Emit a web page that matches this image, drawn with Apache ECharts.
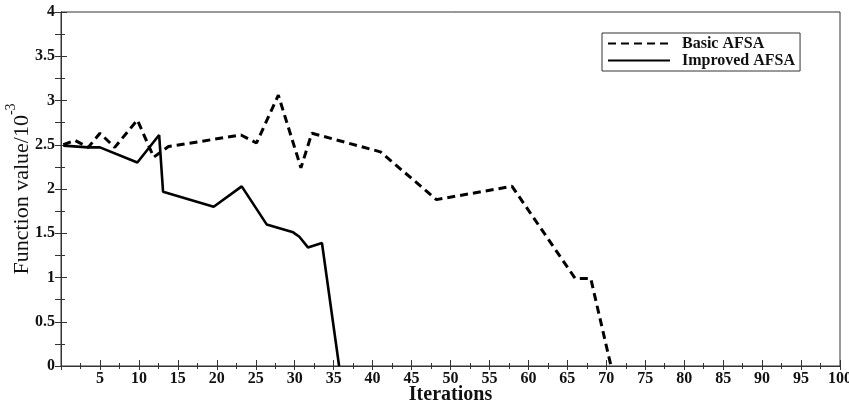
<!DOCTYPE html>
<html>
<head>
<meta charset="utf-8">
<script src="https://cdn.jsdelivr.net/npm/echarts@6/dist/echarts.min.js"></script>
<style>html,body{margin:0;padding:0;background:#fff}#c{width:849px;height:406px}</style>
</head>
<body>
<div id="c"></div>
<script>
const seriesNames = ["Basic AFSA", "Improved AFSA"];
const basicX = [0.3, 1.8, 3.5, 5.0, 6.9, 9.8, 11.9, 13.8, 23.1, 25.1, 27.9, 30.8, 32.2, 41.0, 48.2, 57.9, 66.0, 68.0, 70.6];
const basicY = [2.50, 2.55, 2.47, 2.63, 2.47, 2.78, 2.36, 2.48, 2.61, 2.52, 3.06, 2.24, 2.63, 2.42, 1.88, 2.03, 0.99, 0.99, 0.0];
const improvedX = [0.3, 3.5, 5.0, 9.8, 12.6, 13.1, 19.6, 23.2, 26.4, 29.8, 30.6, 31.7, 33.5, 35.7];
const improvedY = [2.49, 2.47, 2.47, 2.30, 2.61, 1.97, 1.80, 2.03, 1.60, 1.51, 1.46, 1.34, 1.39, 0.0];
const xMin = 0, xMax = 100, xStep = 5;
const yMin = 0, yMax = 4, yStep = 0.5;

const font = '"Liberation Serif", "DejaVu Serif", serif';
const pair = (xs, ys) => xs.map((x, i) => [x, ys[i]]);

const chart = echarts.init(document.getElementById('c'));
chart.setOption({
  animation: false,
  backgroundColor: '#fff',
  grid: { left: 61, right: 9, top: 12, bottom: 40, outerBoundsMode: 'none', containLabel: false,
    show: true, borderColor: '#333', borderWidth: 1, backgroundColor: 'transparent' },
  legend: {
    data: seriesNames,
    orient: 'vertical',
    left: 602, top: 33,
    borderColor: '#333', borderWidth: 1,
    padding: [2, 5, 2, 5],
    itemWidth: 62, itemHeight: 10, itemGap: 0,
    itemStyle: { opacity: 0 },
    textStyle: { fontFamily: font, fontSize: 16, fontWeight: 'bold', color: '#111', lineHeight: 17, padding: [0, 0, 0, 7] }
  },
  xAxis: [{
    type: 'value', min: xMin, max: xMax, interval: xStep,
    name: 'Iterations', nameLocation: 'middle', nameGap: 19, nameMoveOverlap: false,
    nameTextStyle: { fontFamily: font, fontSize: 20, fontWeight: 'bold', color: '#111' },
    axisLine: { lineStyle: { color: '#333', width: 1 } },
    axisTick: { inside: true, length: 6, lineStyle: { color: '#333' } },
    minorTick: { show: true, splitNumber: 2, length: 3, lineStyle: { color: '#333' } },
    splitLine: { show: false },
    axisLabel: { fontFamily: font, fontSize: 16, fontWeight: 'bold', color: '#111', margin: 5,
      formatter: v => v === 0 ? '' : String(v) }
  }, {
    type: 'value', position: 'top', min: xMin, max: xMax, interval: xStep,
    axisLine: { show: true, lineStyle: { color: '#333' } },
    axisTick: { inside: true, length: 4, lineStyle: { color: '#333' } },
    minorTick: { show: true, splitNumber: 2, length: 3, lineStyle: { color: '#333' } },
    axisLabel: { show: false }, splitLine: { show: false }
  }],
  yAxis: [{
    type: 'value', min: yMin, max: yMax, interval: yStep,
    name: '{a|Function value/10}{b|-3}', nameLocation: 'middle', nameGap: 21, nameMoveOverlap: false,
    nameTextStyle: {
      rich: {
        a: { fontFamily: font, fontSize: 22, color: '#111' },
        b: { fontFamily: font, fontSize: 14, color: '#111', verticalAlign: 'bottom', padding: [0, 0, 22, 0] }
      }
    },
    axisLine: { show: true, lineStyle: { color: '#333' } },
    axisTick: { inside: true, length: 6, lineStyle: { color: '#333' } },
    minorTick: { show: true, splitNumber: 2, length: 4, lineStyle: { color: '#333' } },
    splitLine: { show: false },
    axisLabel: { fontFamily: font, fontSize: 16, fontWeight: 'bold', color: '#111', margin: 6 }
  }, {
    type: 'value', position: 'right', min: yMin, max: yMax, interval: 0.25,
    axisLine: { show: true, lineStyle: { color: '#333' } },
    axisTick: { inside: true, length: 6, lineStyle: { color: '#333' } },
    axisLabel: { show: false }, splitLine: { show: false }
  }],
  series: [{
    name: seriesNames[0], type: 'line', symbol: 'none',
    data: pair(basicX, basicY),
    lineStyle: { color: '#000', width: 3, type: [8, 5] },
    itemStyle: { color: '#000' }
  }, {
    name: seriesNames[1], type: 'line', symbol: 'none',
    data: pair(improvedX, improvedY),
    lineStyle: { color: '#000', width: 2.6, type: 'solid' },
    itemStyle: { color: '#000' }
  }]
});
</script>
</body>
</html>
